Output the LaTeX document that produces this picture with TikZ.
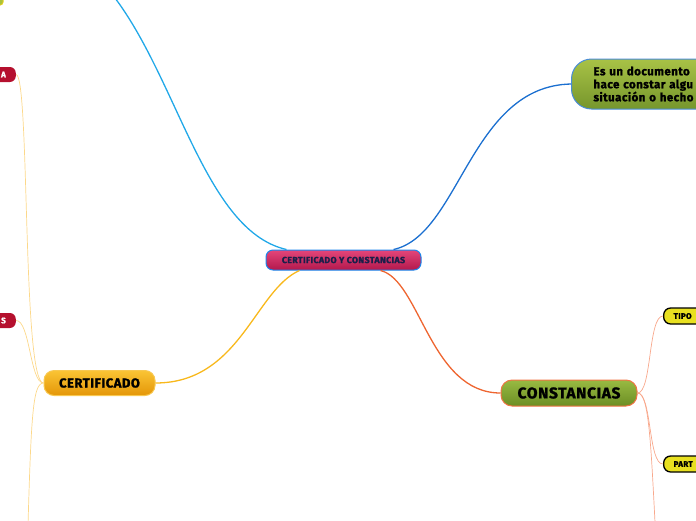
\documentclass[tikz,border=0pt]{standalone}
\usepackage{fontspec}
\setmainfont{Fira Sans}[BoldFeatures={FakeBold=1.5, LetterSpace=4}]
\usetikzlibrary{calc}
\definecolor{cblue}{HTML}{1B6FD0}
\definecolor{lblue}{HTML}{21A8E8}
\definecolor{cyell}{HTML}{F8B81C}
\definecolor{lyell}{HTML}{FCD88A}
\definecolor{corng}{HTML}{EE6530}
\definecolor{salmon}{HTML}{F8A88C}
\definecolor{crimson}{HTML}{B5102E}
\definecolor{navytxt}{HTML}{1B1F4A}
\tikzset{
  mainbox/.style={draw=#1, line width=1pt, rounded corners=7pt, font=\bfseries\fontsize{8.8}{9}\selectfont, text=navytxt},
  redbox/.style={fill=crimson, rounded corners=6pt, text=white, font=\bfseries\fontsize{8}{9}\selectfont, text width=50pt, align=right, inner xsep=10pt, minimum height=15pt, inner ysep=0pt},
  tagbox/.style={fill={rgb,255:red,232;green,224;blue,32}, draw=black, line width=1.3pt, rounded corners=7pt, font=\bfseries\fontsize{8}{9}\selectfont, text width=60pt, align=left, inner xsep=10pt, minimum height=16pt, inner ysep=0pt},
  conn/.style={line width=1.3pt},
  thin/.style={line width=0.7pt}
}
\begin{document}
\begin{tikzpicture}[x=1pt,y=-1pt]
\useasboundingbox (0,0) rectangle (696,520);
\clip (0,0) rectangle (696,520);
% nodes
\node[mainbox=lblue!80!blue, top color={rgb,255:red,228;green,70;blue,122}, bottom color={rgb,255:red,178;green,24;blue,76}, minimum width=155pt, minimum height=20pt, inner sep=0pt] (c) at (343.5,260) {CERTIFICADO Y CONSTANCIAS};
\node[draw=cblue!80, line width=1pt, top color={rgb,255:red,168;green,194;blue,70}, bottom color={rgb,255:red,118;green,150;blue,44}, rounded corners=20pt, anchor=west, text width=170pt, align=left, inner xsep=22pt, minimum height=50pt, font=\bfseries\fontsize{11.5}{13}\selectfont] (d) at (571,84) {Es un documento\\hace constar algu\\situación o hecho};
\node[draw={rgb,255:red,248;green,200;blue,80}, line width=1pt, top color={rgb,255:red,250;green,196;blue,52}, bottom color={rgb,255:red,228;green,150;blue,8}, rounded corners=10pt, minimum width=111pt, minimum height=25pt, inner sep=0pt, font=\bfseries\fontsize{13}{14}\selectfont] (e) at (99.5,383) {CERTIFICADO};
\node[draw=corng!90, line width=1pt, top color={rgb,255:red,152;green,186;blue,66}, bottom color={rgb,255:red,108;green,142;blue,36}, rounded corners=11pt, minimum width=136pt, minimum height=26pt, inner sep=0pt, font=\bfseries\fontsize{15.5}{16}\selectfont] (f) at (569,393) {CONSTANCIAS};
\node[redbox, anchor=east] (a) at (16,74.5) {A};
\node[redbox, anchor=east] (s) at (16,320.5) {S};
\node[tagbox, anchor=west] (t) at (663,316) {TIPO};
\node[tagbox, anchor=west] (p) at (663,464) {PART};
\node[fill={rgb,255:red,170;green,194;blue,58}, draw={rgb,255:red,230;green,208;blue,32}, line width=0.8pt, rounded corners=3pt, minimum width=30pt, minimum height=20pt, anchor=south east] (g) at (3.5,5.5) {};
\coordinate (gt) at (100,-20);
\coordinate (eb) at (27,560);
\coordinate (fb) at (657,560);
% connectors
\draw[conn, lblue] ([xshift=21pt]c.north west) .. controls (200,230) and (175,60) .. (gt);
\draw[conn, cblue] ([xshift=-28pt]c.north east) .. controls (460,235) and (470,86) .. (d.west);
\draw[conn, cyell] ([xshift=-44pt]c.south) .. controls (255,290) and (240,383) .. (e.east);
\draw[conn, corng] ([xshift=37pt]c.south) .. controls (420,280) and (430,393) .. (f.west);
% certificado children
\draw[thin, lyell] (e.west) .. controls (22,383) and (30,74) .. (a.east);
\draw[thin, lyell] (e.west) .. controls (30,383) and (30,320) .. (s.east);
\draw[thin, lyell] (e.west) .. controls (32,383) and (31,420) .. (eb);
% constancias children
\draw[thin, salmon] (f.east) .. controls (652,393) and (648,316) .. (t.west);
\draw[thin, salmon] (f.east) .. controls (652,393) and (648,464) .. (p.west);
\draw[thin, salmon] (f.east) .. controls (650,393) and (651,450) .. (fb);
\end{tikzpicture}
\end{document}
